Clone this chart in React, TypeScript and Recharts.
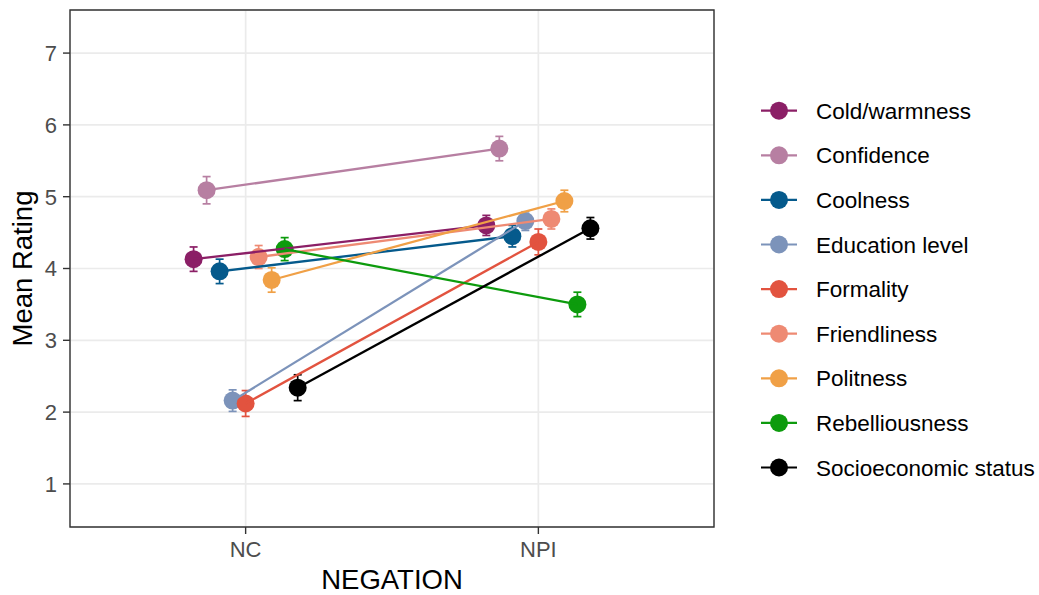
import React from 'react';
import { ScatterChart, Scatter, XAxis, YAxis, CartesianGrid, ErrorBar, ReferenceArea, Legend } from 'recharts';

const categories = ['NC', 'NPI'];
const seriesNames = [
  'Cold/warmness',
  'Confidence',
  'Coolness',
  'Education level',
  'Formality',
  'Friendliness',
  'Politness',
  'Rebelliousness',
  'Socioeconomic status',
];
const ncMeans = [4.13, 5.09, 3.96, 2.16, 2.12, 4.16, 3.84, 4.27, 2.34];
const npiMeans = [4.6, 5.67, 4.45, 4.66, 4.37, 4.69, 4.94, 3.5, 4.56];
const ncErrors = [0.17, 0.19, 0.17, 0.15, 0.18, 0.16, 0.17, 0.16, 0.18];
const npiErrors = [0.14, 0.17, 0.15, 0.13, 0.18, 0.14, 0.15, 0.17, 0.15];
const colors = ['#8B1F66', '#B77FA2', '#055A8C', '#7C93BA', '#E2533F', '#EE8A73', '#F0A046', '#0D9B0D', '#000000'];
const yTicks = [1, 2, 3, 4, 5, 6, 7];
const xTicks = [1, 2];

const DODGE = 0.4;
const n = seriesNames.length;
const seriesData = seriesNames.map((name, i) => {
  const off = ((i - (n - 1) / 2) * DODGE) / n;
  return [
    { x: 1 + off, y: ncMeans[i], err: ncErrors[i] },
    { x: 2 + off, y: npiMeans[i], err: npiErrors[i] },
  ];
});

const FONT = '"Liberation Sans", Arial, sans-serif';

const renderLegend = () => (
  <svg width={299} height={420} style={{ fontFamily: FONT }}>
    {seriesNames.map((name, i) => {
      const cy = 30.7 + i * 44.6;
      return (
        <g key={name}>
          <line x1={21} x2={57} y1={cy} y2={cy} stroke={colors[i]} strokeWidth={2.2} />
          <circle cx={39} cy={cy} r={9} fill={colors[i]} />
          <text x={76} y={cy} dy={8} fontSize={22.5} fill="#000">
            {name}
          </text>
        </g>
      );
    })}
  </svg>
);

export default function App() {
  return (
    <div style={{ position: 'absolute', left: 0, top: 0, width: 1039, height: 595, background: '#fff', fontFamily: FONT }}>
      <ScatterChart width={1039} height={595} margin={{ top: 10, right: 325, bottom: 0, left: 0 }}>
        <CartesianGrid stroke="#EBEBEB" strokeWidth={1.7} />
        <XAxis
          type="number"
          dataKey="x"
          domain={[0.4, 2.6]}
          ticks={xTicks}
          allowDataOverflow
          tickFormatter={(v: number) => categories[Math.round(v) - 1]}
          height={68}
          axisLine={false}
          tickSize={7}
          tickMargin={7}
          tickLine={{ stroke: '#333333', strokeWidth: 1.4 }}
          tick={{ fill: '#4D4D4D', fontSize: 22, fontFamily: FONT }}
          label={{
            content: (props: any) => {
              const vb = props.viewBox || { x: 70, y: 527, width: 644, height: 68 };
              return (
                <text x={vb.x + vb.width / 2} y={vb.y + 62} textAnchor="middle" fontSize={27.5} fill="#000" fontFamily={FONT}>
                  NEGATION
                </text>
              );
            },
          }}
        />
        <YAxis
          type="number"
          dataKey="y"
          domain={[0.4, 7.6]}
          ticks={yTicks}
          allowDataOverflow
          width={70}
          axisLine={false}
          tickSize={7}
          tickMargin={6}
          tickLine={{ stroke: '#333333', strokeWidth: 1.4 }}
          tick={{ fill: '#4D4D4D', fontSize: 22, fontFamily: FONT }}
          label={{
            content: (props: any) => {
              const vb = props.viewBox || { x: 0, y: 10, width: 70, height: 517 };
              const x = vb.x + 32;
              const y = vb.y + vb.height / 2;
              return (
                <text x={x} y={y} transform={`rotate(-90, ${x}, ${y})`} textAnchor="middle" fontSize={27.5} fill="#000" fontFamily={FONT}>
                  Mean Rating
                </text>
              );
            },
          }}
        />
        {seriesNames.map((name, i) => (
          <Scatter
            key={`pt-${name}`}
            name={name}
            data={seriesData[i]}
            fill={colors[i]}
            isAnimationActive={false}
            shape={(p: any) => <circle cx={p.cx} cy={p.cy} r={9} fill={colors[i]} />}
          />
        ))}
        {seriesNames.map((name, i) => (
          <Scatter
            key={`ln-${name}`}
            name={`${name}-line`}
            legendType="none"
            data={seriesData[i]}
            fill={colors[i]}
            line={{ stroke: colors[i], strokeWidth: 2.3 }}
            isAnimationActive={false}
            shape={() => <g />}
          >
            <ErrorBar dataKey="err" direction="y" width={4} stroke={colors[i]} strokeWidth={1.7} isAnimationActive={false} />
          </Scatter>
        ))}
        <ReferenceArea x1={0.4} x2={2.6} y1={0.4} y2={7.6} fill="none" stroke="#333333" strokeWidth={1.4} ifOverflow="visible" />
        <Legend
          layout="vertical"
          align="center"
          verticalAlign="middle"
          content={renderLegend}
          wrapperStyle={{ left: 740, top: 80, width: 299, height: 420 }}
        />
      </ScatterChart>
    </div>
  );
}
